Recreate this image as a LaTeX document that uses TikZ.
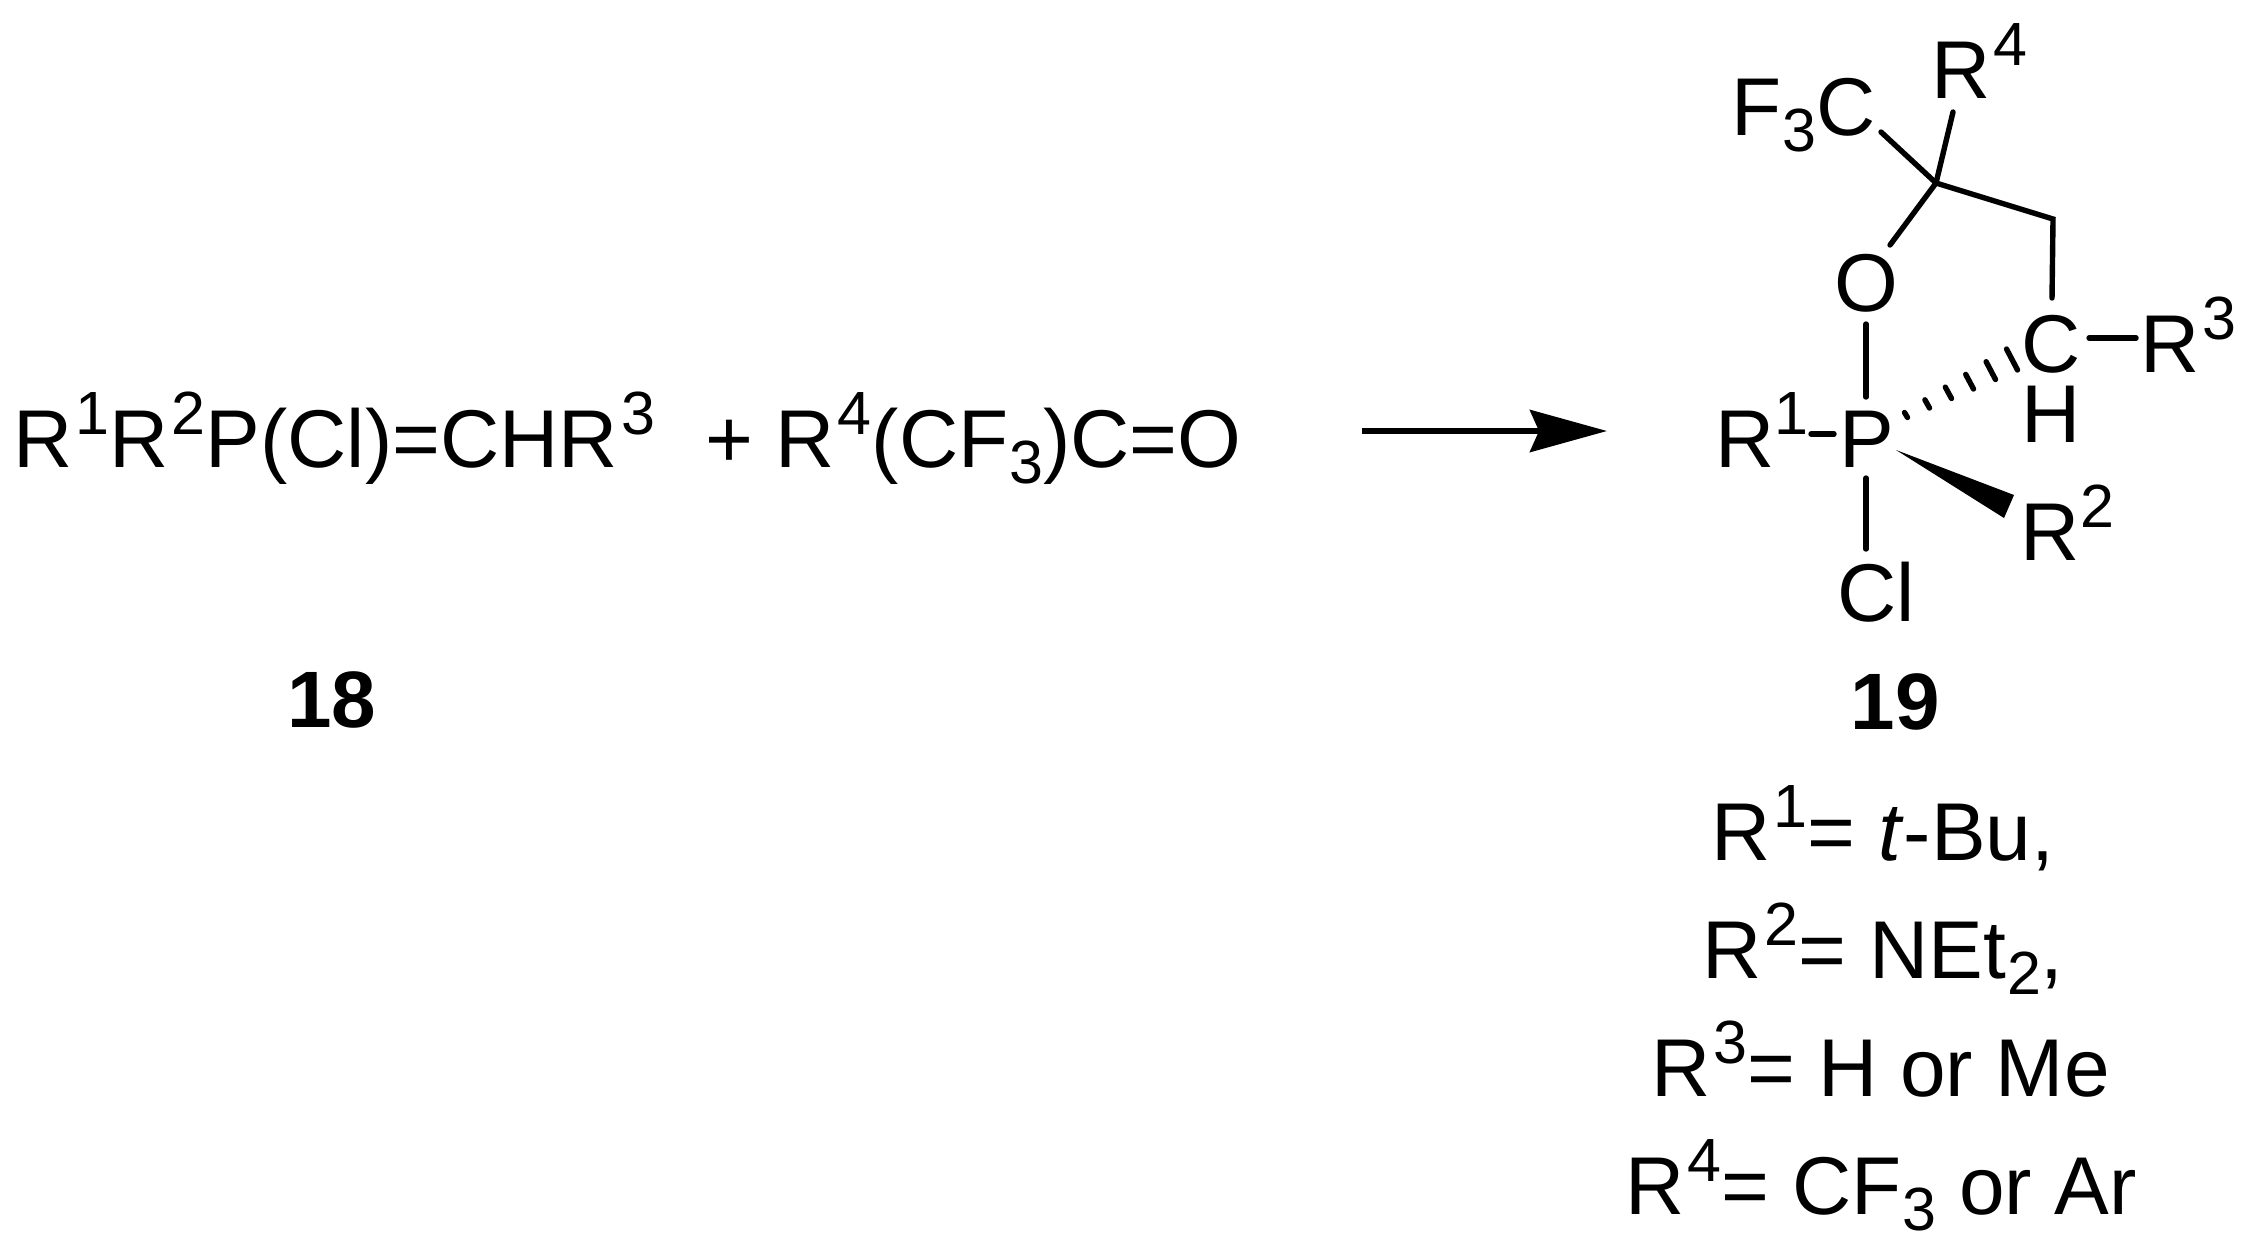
\documentclass[tikz,border=0pt]{standalone}
\usepackage{fontspec}
\setmainfont{Liberation Sans}
\usetikzlibrary{arrows.meta,calc}
\newcommand\Sp[1]{\kern1.5pt\raisebox{16.5pt}{\fontsize{30.5pt}{30pt}\selectfont #1}}
\newcommand\Sb[1]{\kern0.5pt\raisebox{-8pt}{\fontsize{30.5pt}{30pt}\selectfont #1}}
\tikzset{
  chem/.style={inner sep=0pt,outer sep=0pt,anchor=base west,font=\fontsize{41pt}{48pt}\selectfont},
  num/.style={inner sep=0pt,outer sep=0pt,anchor=base,font=\fontsize{40pt}{48pt}\selectfont\bfseries},
  bond/.style={line width=2.7pt,line cap=round,line join=miter,black},
  hashb/.style={line width=2.7pt,line cap=round,black},
  rxn/.style={line width=3pt,-{Stealth[length=38.5pt,width=21pt,inset=4.5pt]}}
}
\begin{document}
\begin{tikzpicture}[x=0.5pt,y=-0.5pt]
\useasboundingbox (0,0) rectangle (2247,1244);
% left formulae
\node[chem] (re1) at (13.5,467) {R\Sp{1}R\Sp{2}P(Cl)=CHR\Sp{3}};
\node[chem] (re2) at (705,467) {+ R\Sp{4}(CF\Sb{3})C=O};
\node[num] (n18) at (332,727) {18};
% arrow
\coordinate (arA) at (1362,431);
\coordinate (arB) at (1607,431);
\draw[rxn] (arA) -- (arB);
% atoms of 19
\node[chem] (Fc) at (1731.5,135) {F\Sb{3}C};
\node[chem] (Rf) at (1931.5,98) {R\Sp{4}};
\node[chem] (Ox) at (1834,311) {O};
\node[chem] (Cc) at (2021,372) {C};
\node[chem] (Rt) at (2140,372) {R\Sp{3}};
\node[chem] (Hy) at (2021.5,442) {H};
\node[chem] (Ro) at (1715.5,467) {R\kern-1.5pt\Sp{1}};
\node[chem] (Ph) at (1839,467) {P};
\node[chem] (Rw) at (2020.5,560) {R\kern-1pt\Sp{2}};
\node[chem] (Cl) at (1837,621) {Cl};
\coordinate (Cq) at (1936,183);
\coordinate (Cm) at (2053,219);
% bonds
\draw[bond] ([shift={(149.5,-3)}]Fc.base west) -- (Cq);
\draw[bond] ([shift={(21.5,14)}]Rf.base west) -- (Cq);
\draw[bond] ([shift={(56,-66)}]Ox.base west) -- (Cq) -- (Cm) -- ([shift={(31,-74)}]Cc.base west);
\draw[bond] ([shift={(68,-34)}]Cc.base west) -- ([shift={(-4,-34)}]Rt.base west);
\draw[bond] ([shift={(32,13)}]Ox.base west) -- ([shift={(27,-70)}]Ph.base west);
\draw[bond] ([shift={(95.5,-33)}]Ro.base west) -- ([shift={(-5,-33)}]Ph.base west);
\draw[bond] ([shift={(27,11)}]Ph.base west) -- ([shift={(29,-72)}]Cl.base west);
% wedge
\fill[black] ([shift={(57,-17)}]Ph.base west) -- ([shift={(-6.5,-65)}]Rw.base west) -- ([shift={(-16.5,-42)}]Rw.base west) -- cycle;
% hashed bond
\coordinate (a0) at ([shift={(65.5,-54.5)}]Ph.base west);
\coordinate (b0) at ([shift={(68.5,-49.5)}]Ph.base west);
\coordinate (a1) at ([shift={(-14.5,-23)}]Cc.base west);
\coordinate (b1) at ([shift={(-3.5,-2)}]Cc.base west);
\foreach \t in {0,0.2,0.4,0.6,0.8,1}{
  \draw[hashb] ($(a0)!\t!(a1)$) -- ($(b0)!\t!(b1)$);
}
% captions
\node[num] (n19) at (1895,729) {19};
\node[chem] (l1) at (1711.5,860) {R\Sp{1}= \textit{t}-Bu,};
\node[chem] (l2) at (1702.5,978) {R\Sp{2}= NEt\Sb{2},};
\node[chem] (l3) at (1651.5,1096) {R\Sp{3}= H or Me};
\node[chem] (l4) at (1625.5,1214) {R\Sp{4}= CF\Sb{3} or Ar};
\end{tikzpicture}
\end{document}
